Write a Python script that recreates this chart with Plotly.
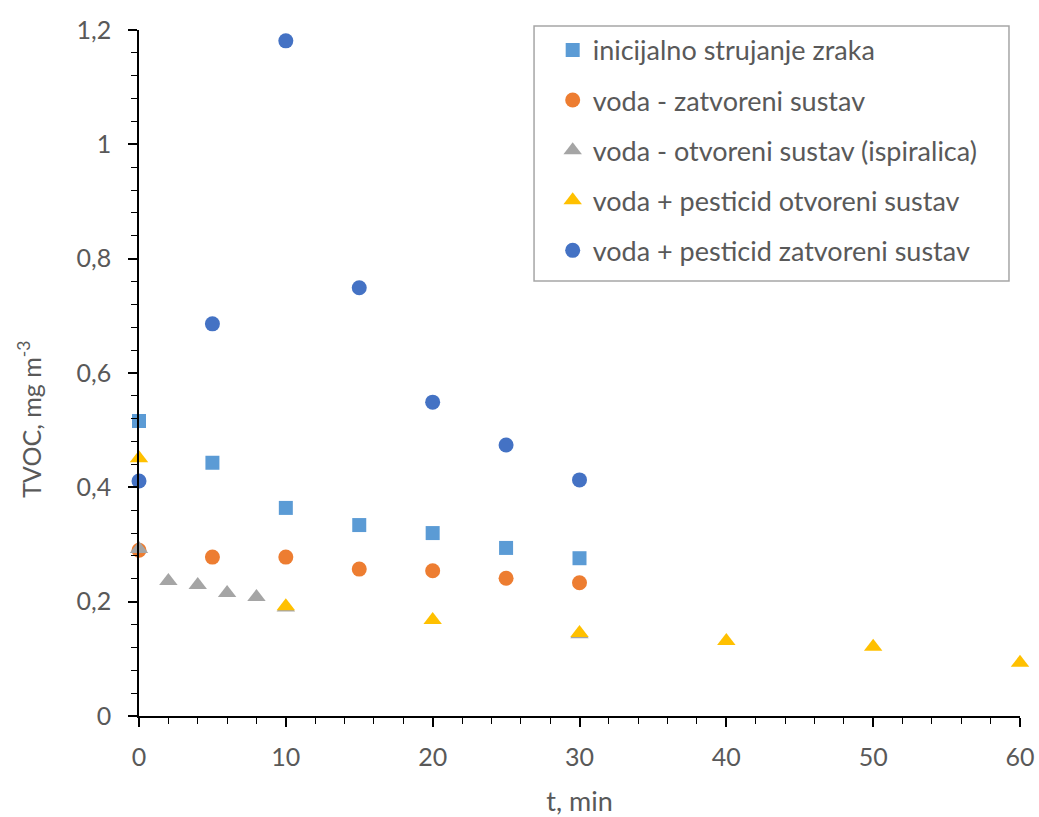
import plotly.graph_objects as go

# Data
t_init = [0, 5, 10, 15, 20, 25, 30]
v_init = [0.516, 0.443, 0.364, 0.334, 0.320, 0.294, 0.276]

t_vz = [0, 5, 10, 15, 20, 25, 30]
v_vz = [0.290, 0.278, 0.278, 0.257, 0.254, 0.241, 0.233]

t_vo = [0, 2, 4, 6, 8, 10, 30]
v_vo = [0.292, 0.236, 0.229, 0.215, 0.208, 0.190, 0.143]

t_vpo = [0, 10, 20, 30, 40, 50, 60]
v_vpo = [0.451, 0.192, 0.168, 0.145, 0.131, 0.121, 0.093]

t_vpz = [0, 5, 10, 15, 20, 25, 30]
v_vpz = [0.411, 0.686, 1.181, 0.749, 0.549, 0.474, 0.413]

x_ticks = [0, 10, 20, 30, 40, 50, 60]
y_ticks = [0, 0.2, 0.4, 0.6, 0.8, 1.0, 1.2]

names = [
    "inicijalno strujanje zraka",
    "voda - zatvoreni sustav",
    "voda - otvoreni sustav (ispiralica)",
    "voda + pesticid otvoreni sustav",
    "voda + pesticid zatvoreni sustav",
]

series = [
    (t_init, v_init, "square", "#5B9BD5", 14),
    (t_vz, v_vz, "circle", "#ED7D31", 15),
    (t_vo, v_vo, "triangle-up", "#A5A5A5", 16),
    (t_vpo, v_vpo, "triangle-up", "#FFC000", 16),
    (t_vpz, v_vpz, "circle", "#4472C4", 15),
]

FONT = "Lato"
TXT = "#595959"

fig = go.Figure()
for i, ((x, y, sym, col, sz), nm) in enumerate(zip(series, names)):
    fig.add_trace(go.Scatter(
        x=x, y=y, mode="markers", name=nm,
        legendgroup=f"g{i}",
        marker=dict(symbol=sym, color=col, size=sz, line=dict(width=0)),
        cliponaxis=False,
    ))

fig.add_annotation(
    text="TVOC, mg m<sup>-3</sup>", textangle=-90,
    xref="paper", yref="paper", x=-0.1237, y=0.432,
    xanchor="center", yanchor="middle", showarrow=False,
    font=dict(family=FONT, size=25, color=TXT),
)

# legend frame
fig.add_shape(
    type="rect", xref="paper", yref="paper",
    x0=0.4484, x1=0.9875, y0=0.6341, y1=1.0058,
    line=dict(color="#A6A6A6", width=1.5), fillcolor="white", layer="below",
)

fig.update_layout(
    width=1039, height=817,
    margin=dict(l=139, r=19, t=30, b=101, autoexpand=False),
    paper_bgcolor="white", plot_bgcolor="white",
    separators=", ",
    font=dict(family=FONT, size=24, color=TXT),
    showlegend=True,
    legend=dict(
        x=0.448, y=1.006, xanchor="left", yanchor="top",
        borderwidth=0, bgcolor="rgba(0,0,0,0)",
        font=dict(family=FONT, size=27, color=TXT),
        tracegroupgap=12,
        itemwidth=30,
        indentation=19,
    ),
    xaxis=dict(
        range=[0, 60], tickvals=x_ticks,
        automargin=False,
        showgrid=False, zeroline=False,
        showline=True, linecolor="black", linewidth=1.5,
        ticks="outside", ticklen=9, tickwidth=1.5, tickcolor="black",
        minor=dict(dtick=2, ticks="outside", ticklen=6, tickwidth=1.3, tickcolor="black"),
        tickfont=dict(size=25, color=TXT),
        ticklabelstandoff=9,
        title=dict(text="t, min", font=dict(size=27, color=TXT), standoff=24),
    ),
    yaxis=dict(
        range=[0, 1.2], tickvals=y_ticks,
        automargin=False,
        showgrid=False, zeroline=False,
        showline=True, linecolor="black", linewidth=1.5,
        ticks="outside", ticklen=9, tickwidth=1.5, tickcolor="black",
        minor=dict(dtick=0.04, ticks="outside", ticklen=6, tickwidth=1.3, tickcolor="black"),
        tickfont=dict(size=25, color=TXT),
        ticklabelstandoff=12,
    ),
)

fig.write_html(
    "out.html",
    config={"displayModeBar": False},
    post_script="document.body.style.margin='0px';document.body.style.overflow='hidden';",
)
